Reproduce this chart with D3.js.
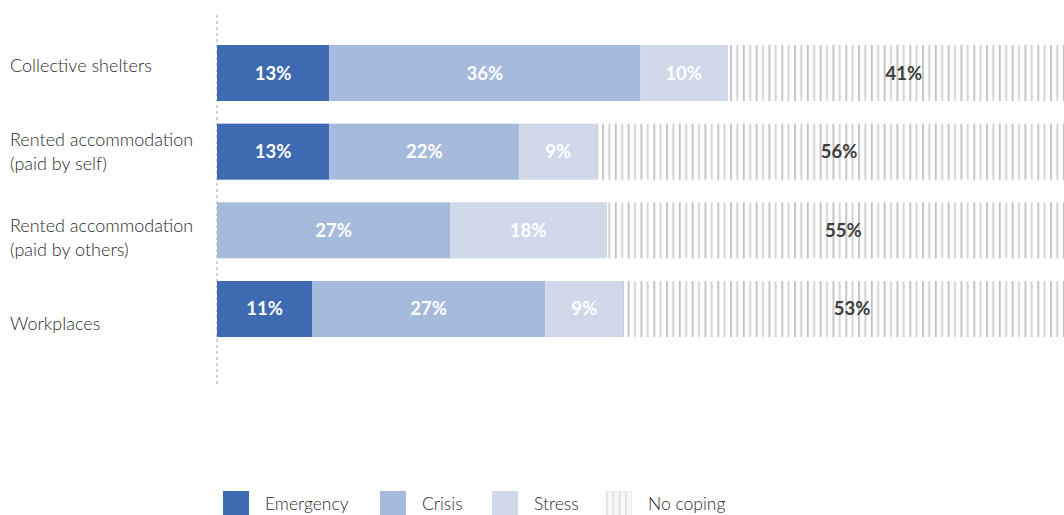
<!DOCTYPE html>
<html>
<head>
<meta charset="utf-8">
<script src="https://cdn.jsdelivr.net/npm/d3@7/dist/d3.min.js"></script>
<style>
  html, body { margin: 0; padding: 0; background: #fff; }
  svg { display: block; }
  text { font-family: Lato, "Open Sans", sans-serif; }
</style>
</head>
<body>
<svg id="chart" width="1064" height="515"></svg>
<script>
// ---- data ----
const categories = [
  ["Collective shelters"],
  ["Rented accommodation", "(paid by self)"],
  ["Rented accommodation", "(paid by others)"],
  ["Workplaces"]
];
const seriesNames = ["Emergency", "Crisis", "Stress", "No coping"];
const emergency = [13, 13, 0, 11];
const crisis    = [36, 22, 27, 27];
const stress    = [10, 9, 18, 9];
const noCoping  = [41, 56, 55, 53];

// ---- layout ----
const svg = d3.select("#chart");
const colors = ["#3e6ab2", "#a6bbdc", "#cfd9ea", "url(#hatch)"];
const textColors = ["#ffffff", "#ffffff", "#ffffff", "#3d3d3d"];

const defs = svg.append("defs");
const pat = defs.append("pattern")
  .attr("id", "hatch").attr("patternUnits", "userSpaceOnUse")
  .attr("width", 12.8).attr("height", 56).attr("x", 0.5);
pat.append("rect").attr("width", 12.8).attr("height", 56).attr("fill", "#fff");
pat.append("rect").attr("x", 0).attr("width", 1.8).attr("height", 56).attr("fill", "#c0c0c0");
pat.append("rect").attr("x", 6.4).attr("width", 1.7).attr("height", 56).attr("fill", "#cccccc");

const keys = categories.map((c, i) => "c" + i);
const y = d3.scaleBand().domain(keys).range([45, 337]).paddingInner(0.288).paddingOuter(0);
const yLabel = d3.scalePoint().domain(keys).range([66, 324]);
const x = d3.scaleLinear().domain([0, 100]).range([217, 1081]);

const table = keys.map((k, i) => ({
  key: k,
  vals: [emergency[i], crisis[i], stress[i], noCoping[i]]
}));

// dashed axis line
svg.append("line")
  .attr("x1", x(0)).attr("x2", x(0))
  .attr("y1", 15).attr("y2", 387)
  .attr("stroke", "#c2c2c2").attr("stroke-width", 1.5)
  .attr("stroke-dasharray", "3,3");

// bars
table.forEach(row => {
  let acc = 0;
  const g = svg.append("g");
  row.vals.forEach((v, s) => {
    const x0 = acc, x1 = acc + v;
    acc = x1;
    if (v <= 0) return;
    g.append("rect")
      .attr("x", x(x0)).attr("y", y(row.key))
      .attr("width", x(x1) - x(x0)).attr("height", y.bandwidth())
      .attr("fill", colors[s]);
    if (s === 3) {
      g.append("line").attr("x1", x(x0) + 0.5).attr("x2", x(x0) + 0.5)
        .attr("y1", y(row.key)).attr("y2", y(row.key) + y.bandwidth())
        .attr("stroke", "#c8c8c8").attr("stroke-width", 1);
    }
    g.append("text")
      .attr("x", (x(x0) + x(x1)) / 2)
      .attr("y", y(row.key) + y.bandwidth() / 2 + 6.5)
      .attr("text-anchor", "middle")
      .attr("font-size", 18.5).attr("font-weight", 700)
      .attr("fill", textColors[s])
      .text(v + "%");
  });
});

// category labels
categories.forEach((lines, i) => {
  const cy = yLabel(keys[i]);
  const t = svg.append("text").attr("x", 10).attr("font-size", 18)
    .attr("font-weight", 300).attr("fill", "#2b2b2b");
  const n = lines.length;
  lines.forEach((ln, j) => {
    t.append("tspan").attr("x", 10)
      .attr("y", cy + 6 + (j - (n - 1) / 2) * 24)
      .text(ln);
  });
});

// legend
const legendX = [223, 380, 492, 606];
seriesNames.forEach((name, s) => {
  svg.append("rect").attr("x", legendX[s]).attr("y", 491)
    .attr("width", 26).attr("height", 24)
    .attr("fill", s === 3 ? "url(#hatchL)" : colors[s]);
  svg.append("text").attr("x", legendX[s] + 42).attr("y", 510)
    .attr("font-size", 17.5).attr("font-weight", 300).attr("fill", "#2b2b2b")
    .text(name);
});
const patL = defs.append("pattern")
  .attr("id", "hatchL").attr("patternUnits", "userSpaceOnUse")
  .attr("width", 6.4).attr("height", 24).attr("x", 606);
patL.append("rect").attr("width", 6.4).attr("height", 24).attr("fill", "#f7f7f7");
patL.append("rect").attr("x", 0).attr("width", 1.4).attr("height", 24).attr("fill", "#dcdcdc");
</script>
</body>
</html>
